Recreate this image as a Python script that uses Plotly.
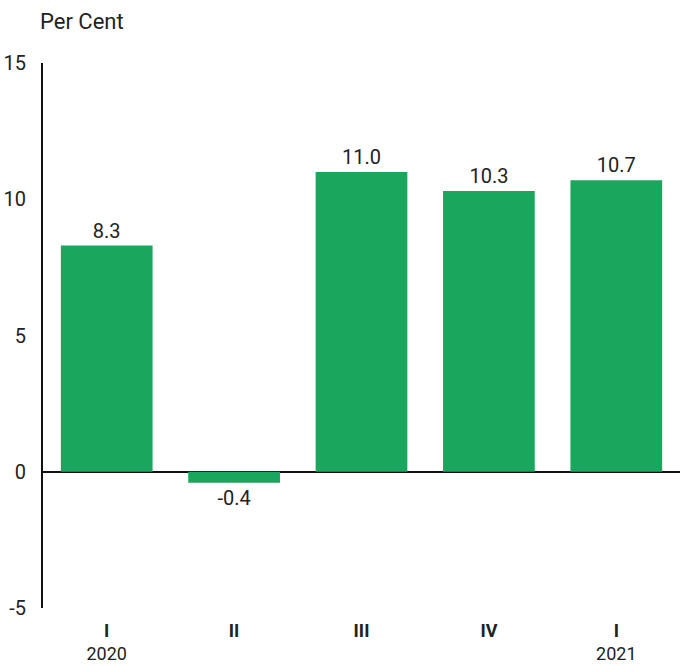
import plotly.graph_objects as go

quarters = ["I", "II", "III", "IV", "I"]
years = ["2020", "", "", "", "2021"]
values = [8.3, -0.4, 11.0, 10.3, 10.7]
y_ticks = [-5, 0, 5, 10, 15]
y_ticktext = ["-5", "0", "5", "10", "15"]

xpos = list(range(len(quarters)))
ticktext = [f"<b>{q}</b>" + (f"<br>{y}" if y else "") for q, y in zip(quarters, years)]

FONT = "Roboto"
fig = go.Figure(go.Bar(
    x=xpos, y=values,
    marker=dict(color="#1aa65d", line=dict(width=0)),
    text=[f"{v:.1f}" for v in values],
    textposition="outside",
    textfont=dict(size=20, color="#222222", family=FONT),
    cliponaxis=False,
    width=0.72,
))

fig.update_layout(
    width=687, height=666,
    margin=dict(l=43, r=7, t=63, b=58),
    plot_bgcolor="white", paper_bgcolor="white",
    font=dict(family=FONT, size=20, color="#222222"),
    showlegend=False,
    xaxis=dict(
        tickmode="array", tickvals=xpos, ticktext=ticktext, automargin=False,
        range=[-0.5, 4.5], showgrid=False, showline=False, zeroline=False,
        ticks="", ticklabelstandoff=10, tickfont=dict(size=18, color="#222222"),
    ),
    yaxis=dict(
        range=[-5, 15], tickvals=y_ticks, ticktext=y_ticktext, showgrid=False,
        automargin=False,
        showline=True, linecolor="#111111", linewidth=2,
        zeroline=True, zerolinecolor="#111111", zerolinewidth=2,
        ticks="", ticklabelstandoff=11, tickfont=dict(size=20, color="#222222"),
    ),
    annotations=[dict(
        text="Per Cent", xref="paper", yref="paper", x=-0.008, y=1.05,
        xanchor="left", yanchor="bottom", showarrow=False,
        font=dict(size=22, color="#222222"),
    )],
)

fig.write_html("out.html")
